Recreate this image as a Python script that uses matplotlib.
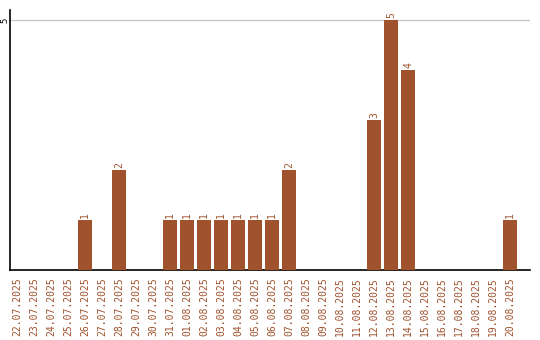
import matplotlib
matplotlib.use("Agg")
import matplotlib.pyplot as plt
import numpy as np

dates = ["22.07.2025", "23.07.2025", "24.07.2025", "25.07.2025", "26.07.2025",
         "27.07.2025", "28.07.2025", "29.07.2025", "30.07.2025", "31.07.2025",
         "01.08.2025", "02.08.2025", "03.08.2025", "04.08.2025", "05.08.2025",
         "06.08.2025", "07.08.2025", "08.08.2025", "09.08.2025", "10.08.2025",
         "11.08.2025", "12.08.2025", "13.08.2025", "14.08.2025", "15.08.2025",
         "16.08.2025", "17.08.2025", "18.08.2025", "19.08.2025", "20.08.2025"]
counts = [0, 0, 0, 0, 1, 0, 2, 0, 0, 1,
          1, 1, 1, 1, 1, 1, 2, 0, 0, 0,
          0, 3, 5, 4, 0, 0, 0, 0, 0, 1]

color = "#A0522D"

fig = plt.figure(figsize=(5.4, 3.4), dpi=100)
ax = fig.add_axes([10 / 540, 70 / 340, 520 / 540, 260 / 340])

x = np.arange(len(dates))
ax.bar(x, counts, width=0.82, color=color, zorder=3)

for xi, c in zip(x, counts):
    if c > 0:
        ax.text(xi, c + 0.04, str(c), rotation=90, ha="center", va="bottom",
                color=color, fontsize=7, family="DejaVu Sans Mono")

# first slot centre sits 7px right of the axis, 17px per slot
ax.set_xlim(-7 / 17, 513 / 17)
ax.set_ylim(0, 5.2)
ax.set_xticks(x)
ax.set_xticklabels(dates, rotation=90, color=color, fontsize=7, family="DejaVu Sans Mono")
ax.set_yticks([5])
ax.set_yticklabels(["5"], rotation=90, ha="center", va="center", fontsize=6.5,
                   family="DejaVu Sans Mono")
ax.tick_params(axis="x", length=0, pad=5)
ax.tick_params(axis="y", length=0, pad=3.6)
ax.yaxis.grid(True, color="#c8c8c8", linewidth=1)
ax.set_axisbelow(True)

for s in ["top", "right"]:
    ax.spines[s].set_visible(False)
ax.spines["left"].set_linewidth(1.2)
ax.spines["bottom"].set_linewidth(1.2)

fig.savefig("out.png", dpi=100)
